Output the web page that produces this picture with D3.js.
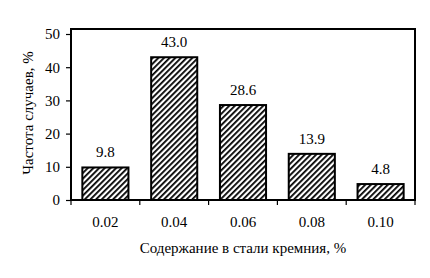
<!DOCTYPE html>
<html><head><meta charset="utf-8">
<script src="https://cdn.jsdelivr.net/npm/d3@7"></script>
<style>body{margin:0;background:#fff}text{font-family:"Liberation Serif","Times New Roman",serif;fill:#000}</style>
</head><body><svg id="c" width="430" height="278"></svg>
<script>
const categories = ["0.02","0.04","0.06","0.08","0.10"];
const values = [9.8,43.0,28.6,13.9,4.8];
const yTicks = [0,10,20,30,40,50];
const xTitle = "Содержание в стали кремния, %";
const yTitle = "Частота случаев, %";

const svg = d3.select("#c");
const L=71, R=415, T=29, B=200;
const FS=15;
const x = d3.scaleBand().domain(categories).range([L,R]).paddingInner(0.33).paddingOuter(0.165);
const y = d3.scaleLinear().domain([0,50]).range([B,34]);

const defs = svg.append("defs");
const pat = defs.append("pattern").attr("id","hatch").attr("patternUnits","userSpaceOnUse")
  .attr("width",4).attr("height",4).attr("patternTransform","rotate(45)");
pat.append("rect").attr("width",4).attr("height",4).attr("fill","#fff");
pat.append("rect").attr("x",0).attr("width",1.8).attr("height",4).attr("fill","#000");

svg.selectAll("rect.bar").data(values).join("rect").attr("class","bar")
  .attr("x",(d,i)=>x(categories[i])).attr("width",x.bandwidth())
  .attr("y",d=>y(d)).attr("height",d=>B-y(d))
  .attr("fill","url(#hatch)").attr("stroke","#000").attr("stroke-width",2);

svg.append("rect").attr("x",L).attr("y",T).attr("width",R-L).attr("height",B-T)
  .attr("fill","none").attr("stroke","#000").attr("stroke-width",2);

const ya = svg.append("g").attr("transform",`translate(${L},0)`)
  .call(d3.axisLeft(y).tickValues(yTicks).tickFormat(d3.format("d")).tickSize(5).tickPadding(6));
ya.select(".domain").remove();
ya.selectAll("line").attr("stroke","#000").attr("stroke-width",1.2);
ya.selectAll("text").attr("font-size",FS).attr("font-family","Liberation Serif");

const bounds = categories.map(c=>x(c)-x.step()*x.paddingInner()/2).concat([R]);
bounds[0]=L;
svg.selectAll("line.xt").data(bounds).join("line").attr("class","xt")
  .attr("x1",d=>d).attr("x2",d=>d).attr("y1",B).attr("y2",B+5).attr("stroke","#000").attr("stroke-width",1.2);
svg.selectAll("text.xl").data(categories).join("text").attr("class","xl")
  .attr("x",d=>x(d)+x.bandwidth()/2).attr("y",227).attr("text-anchor","middle").attr("font-size",FS).text(d=>d);

svg.selectAll("text.vl").data(values).join("text").attr("class","vl")
  .attr("x",(d,i)=>x(categories[i])+x.bandwidth()/2).attr("y",d=>y(d)-10)
  .attr("text-anchor","middle").attr("font-size",FS).text(d=>d.toFixed(1));

svg.append("text").attr("x",243).attr("y",253).attr("text-anchor","middle").attr("font-size",FS).text(xTitle);
svg.append("text").attr("transform","translate(33,113) rotate(-90)").attr("text-anchor","middle").attr("font-size",FS).text(yTitle);
</script></body></html>
